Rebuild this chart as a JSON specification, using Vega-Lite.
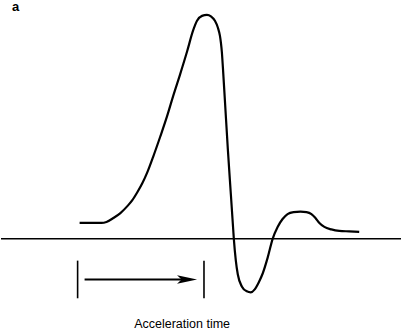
{
  "$schema": "https://vega.github.io/schema/vega-lite/v6.json",
  "width": 402,
  "height": 331,
  "autosize": {"type": "fit", "contains": "padding"},
  "padding": 0,
  "background": "white",
  "config": {"view": {"stroke": null}},
  "datasets": {
    "wave": [
      {"t": 79, "v": 16}, {"t": 101, "v": 16}, {"t": 106, "v": 17}, {"t": 113, "v": 21},
      {"t": 120, "v": 26}, {"t": 127, "v": 33}, {"t": 132, "v": 39}, {"t": 137, "v": 47},
      {"t": 142, "v": 56}, {"t": 147, "v": 67}, {"t": 153, "v": 83}, {"t": 160, "v": 103},
      {"t": 167, "v": 124}, {"t": 173, "v": 144}, {"t": 180, "v": 166}, {"t": 187, "v": 189},
      {"t": 193, "v": 210}, {"t": 197, "v": 220}, {"t": 202, "v": 225}, {"t": 207, "v": 226},
      {"t": 211, "v": 224.5}, {"t": 215, "v": 220}, {"t": 218, "v": 213}, {"t": 220, "v": 205},
      {"t": 221, "v": 198}, {"t": 222, "v": 188}, {"t": 223, "v": 173}, {"t": 225, "v": 140},
      {"t": 228, "v": 90}, {"t": 231, "v": 45}, {"t": 233, "v": 15}, {"t": 234, "v": 0},
      {"t": 236, "v": -22}, {"t": 238, "v": -36}, {"t": 242, "v": -48}, {"t": 247, "v": -53},
      {"t": 251, "v": -54}, {"t": 255, "v": -51}, {"t": 259, "v": -44}, {"t": 263, "v": -35},
      {"t": 268, "v": -19}, {"t": 273, "v": 0}, {"t": 278, "v": 12}, {"t": 283, "v": 20},
      {"t": 288, "v": 25}, {"t": 294, "v": 27}, {"t": 301, "v": 27.5}, {"t": 307, "v": 27},
      {"t": 312, "v": 25}, {"t": 316, "v": 21}, {"t": 320, "v": 16}, {"t": 325, "v": 12},
      {"t": 332, "v": 9.5}, {"t": 340, "v": 8}, {"t": 350, "v": 7.5}, {"t": 360, "v": 7}
    ],
    "ticks": [{"t": 77, "v": -22, "v2": -60}, {"t": 204, "v": -22, "v2": -60}],
    "arrow": [{"t": 84, "t2": 185, "v": -41}],
    "head": [{"t": 187, "v": -41}],
    "label": [{"t": 182, "v": -90, "text": "Acceleration time"}],
    "panel": [{"t": 11, "v": 230, "text": "a"}]
  },
  "layer": [
    {
      "data": {"values": [{"v": 0}]},
      "mark": {"type": "rule", "color": "black", "strokeWidth": 1.6},
      "encoding": {
        "y": {"field": "v", "type": "quantitative", "scale": {"domain": [-91, 240]}, "axis": null}
      }
    },
    {
      "data": {"name": "wave"},
      "mark": {"type": "line", "color": "black", "strokeWidth": 2.2, "interpolate": "monotone"},
      "encoding": {
        "x": {"field": "t", "type": "quantitative", "scale": {"domain": [0, 402]}, "axis": null},
        "y": {"field": "v", "type": "quantitative", "scale": {"domain": [-91, 240]}, "axis": null}
      }
    },
    {
      "data": {"name": "ticks"},
      "mark": {"type": "rule", "color": "black", "strokeWidth": 1.6},
      "encoding": {
        "x": {"field": "t", "type": "quantitative", "scale": {"domain": [0, 402]}, "axis": null},
        "y": {"field": "v", "type": "quantitative", "scale": {"domain": [-91, 240]}, "axis": null},
        "y2": {"field": "v2"}
      }
    },
    {
      "data": {"name": "arrow"},
      "mark": {"type": "rule", "color": "black", "strokeWidth": 2},
      "encoding": {
        "x": {"field": "t", "type": "quantitative", "scale": {"domain": [0, 402]}, "axis": null},
        "x2": {"field": "t2"},
        "y": {"field": "v", "type": "quantitative", "scale": {"domain": [-91, 240]}, "axis": null}
      }
    },
    {
      "data": {"name": "head"},
      "mark": {"type": "point", "filled": true, "color": "black", "opacity": 1, "size": 400,
               "shape": "M-1,-0.42 L1,0 L-1,0.42 L-0.55,0 Z"},
      "encoding": {
        "x": {"field": "t", "type": "quantitative", "scale": {"domain": [0, 402]}, "axis": null},
        "y": {"field": "v", "type": "quantitative", "scale": {"domain": [-91, 240]}, "axis": null}
      }
    },
    {
      "data": {"name": "label"},
      "mark": {"type": "text", "font": "Liberation Sans", "fontSize": 12.5, "color": "black", "align": "center", "baseline": "alphabetic"},
      "encoding": {
        "x": {"field": "t", "type": "quantitative", "scale": {"domain": [0, 402]}, "axis": null},
        "y": {"field": "v", "type": "quantitative", "scale": {"domain": [-91, 240]}, "axis": null},
        "text": {"field": "text"}
      }
    },
    {
      "data": {"name": "panel"},
      "mark": {"type": "text", "font": "Liberation Sans", "fontSize": 13, "fontWeight": "bold", "color": "black", "align": "left", "baseline": "alphabetic"},
      "encoding": {
        "x": {"field": "t", "type": "quantitative", "scale": {"domain": [0, 402]}, "axis": null},
        "y": {"field": "v", "type": "quantitative", "scale": {"domain": [-91, 240]}, "axis": null},
        "text": {"field": "text"}
      }
    }
  ]
}
